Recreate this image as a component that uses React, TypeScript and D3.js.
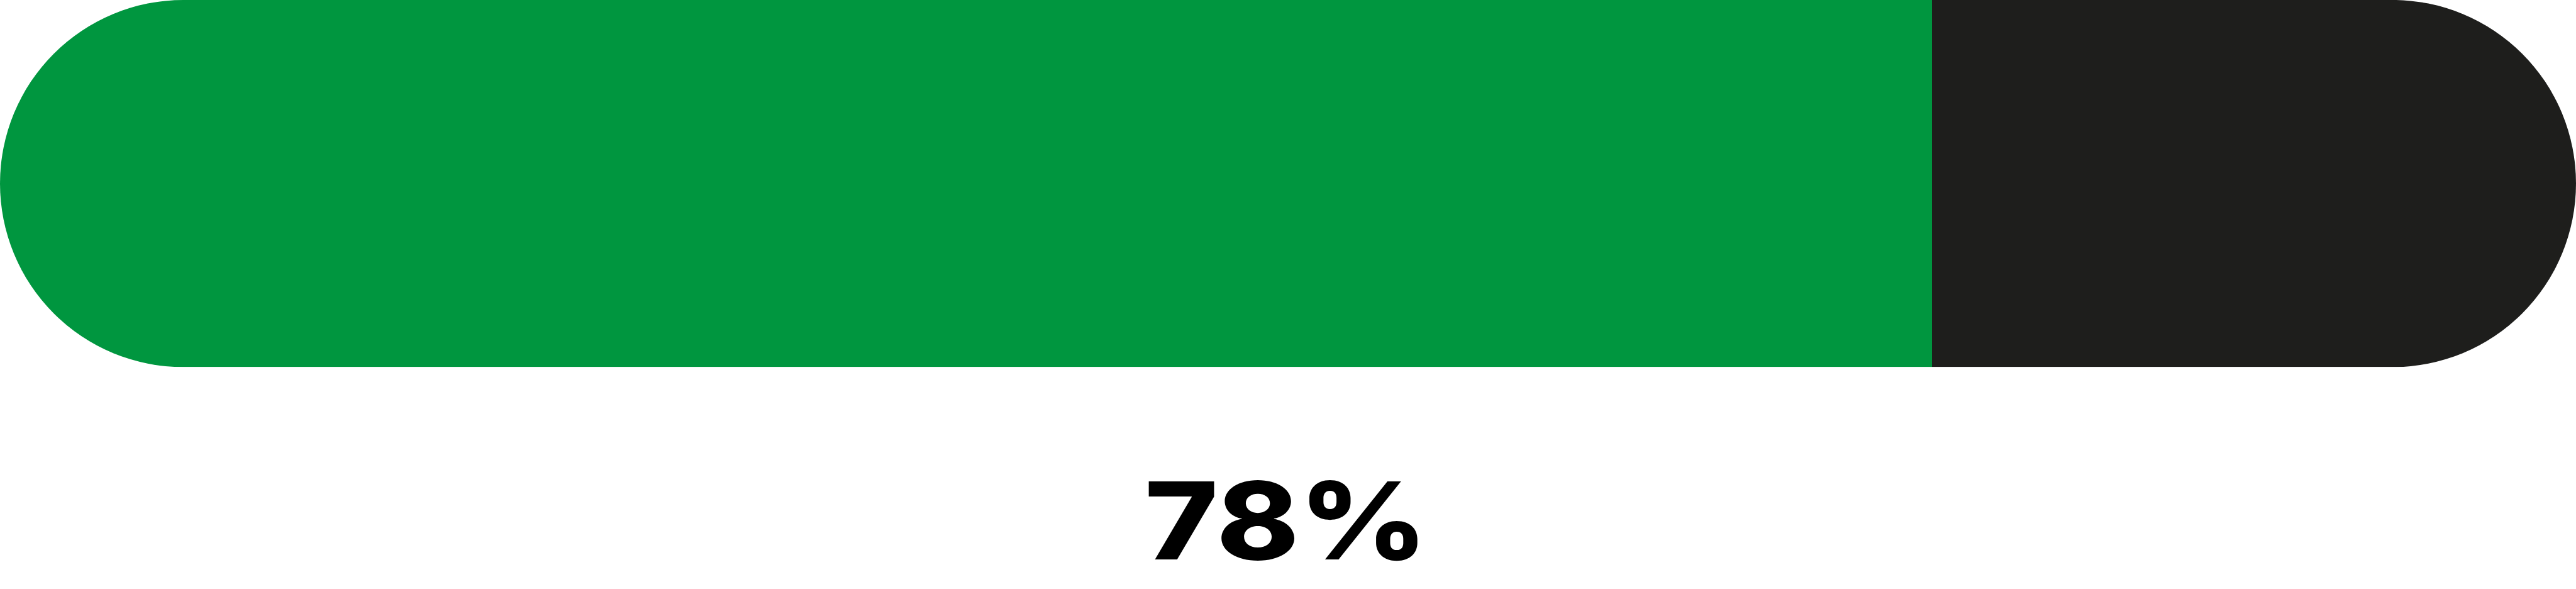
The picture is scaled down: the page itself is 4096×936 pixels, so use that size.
import React from 'react';
import * as d3 from 'd3';

// segments of the progress bar
const segmentNames = ['done', 'left'];
const segmentValues = [75, 25];
const segmentColors = ['#00963f', '#1e1e1c'];
const labelValue = 78;

const width = 4096;
const height = 936;
const k = width / 5814; // reference -> window

function App() {
    const barHeight = 828 * k;
    const r = barHeight / 2;

    const total = d3.sum(segmentValues);
    const x = d3.scaleLinear().domain([0, total]).range([0, width]);

    // running start of every segment
    const starts = d3.cumsum([0, ...segmentValues]);

    return (
        <svg width={width} height={height}
             style={{ position: 'absolute', left: 0, top: 0, background: '#fff' }}>
            <defs>
                <clipPath id="bar-clip">
                    <rect x={0} y={0} width={width} height={barHeight} rx={r} ry={r} />
                </clipPath>
            </defs>
            <g clipPath="url(#bar-clip)">
                {segmentNames.map((name, i) => (
                    <rect key={name}
                          x={x(starts[i])}
                          y={0}
                          width={x(starts[i] + segmentValues[i]) - x(starts[i])}
                          height={barHeight}
                          fill={segmentColors[i]} />
                ))}
            </g>
            {/* label is a wide geometric bold in the original, so stretch it a bit */}
            <g transform={`translate(${2903 * k}, ${1262 * k}) scale(1.16, 1)`}>
                <text x={0} y={0}
                      textAnchor="middle"
                      fontFamily="Inter, 'Open Sans', sans-serif"
                      fontWeight={800}
                      fontSize={171}
                      fill="#000">
                    {`${labelValue}%`}
                </text>
            </g>
        </svg>
    );
}

export default App;
